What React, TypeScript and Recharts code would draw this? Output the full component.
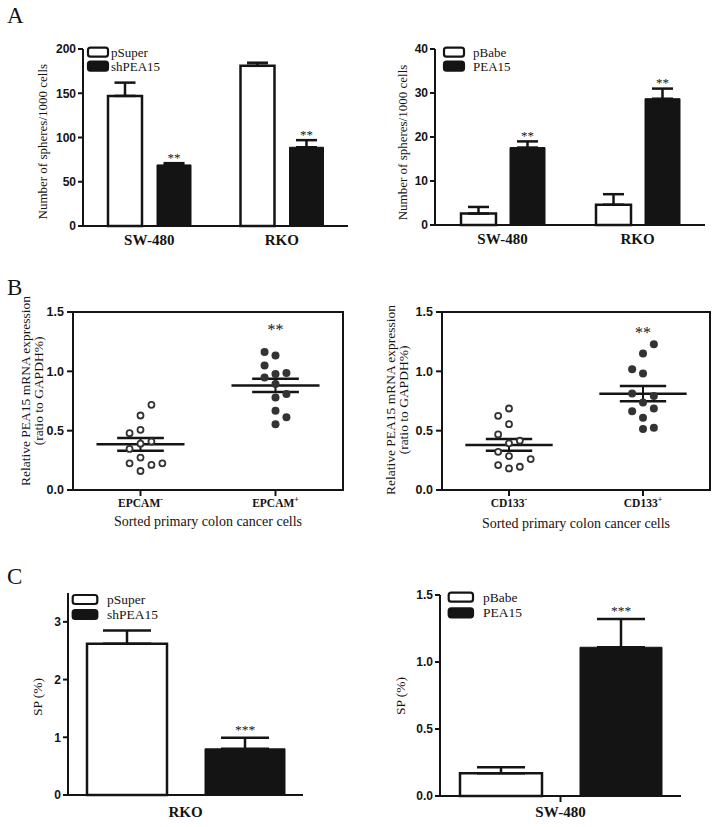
import React from 'react';
import {
  BarChart, Bar, XAxis, YAxis, ErrorBar, LabelList,
  ScatterChart, Scatter, ReferenceLine, ReferenceArea,
} from 'recharts';

const INK = '#141414';
const DOT = '#333333';
const SERIF = '"Liberation Serif", "Times New Roman", serif';
const SANS = '"Liberation Sans", Arial, sans-serif';

// ---------------- Panel A : sphere numbers ----------------
const sphereCategories = ['SW-480', 'RKO'];
const aLeftLegend = ['pSuper', 'shPEA15'];
const aLeftControl = [147, 181];
const aLeftControlErr = [15, 3.5];
const aLeftKnock = [69, 89];
const aLeftKnockErr = [2, 8];
const aLeftStars = ['**', '**'];
const aLeftTicks = [0, 50, 100, 150, 200];

const aRightLegend = ['pBabe', 'PEA15'];
const aRightControl = [2.6, 4.6];
const aRightControlErr = [1.5, 2.4];
const aRightOver = [17.6, 28.7];
const aRightOverErr = [1.4, 2.3];
const aRightStars = ['**', '**'];
const aRightTicks = [0, 10, 20, 30, 40];

const sphereTitle = ['Number of spheres/1000 cells'];

// ---------------- Panel B : sorted cells ----------------
const bTicks = [0, 0.5, 1.0, 1.5];
const bCenters = [0.5, 1.5];
const bTitle = ['Relative PEA15 mRNA expression', '(ratio to GAPDH%)'];
const bXTitle = 'Sorted primary colon cancer cells';

const epcamGroups = [['EPCAM', '-'], ['EPCAM', '+']];
const epcamNeg = [0.718, 0.628, 0.507, 0.479, 0.408, 0.39, 0.346, 0.273, 0.225, 0.211, 0.225, 0.16];
const epcamNegCols = [1, 0, 0, -1, 1, 0, -1, 0, -1, 1, 2, 0];
const epcamPos = [1.163, 1.134, 1.05, 0.949, 0.977, 0.985, 0.893, 0.78, 0.808, 0.667, 0.614, 0.555];
const epcamPosCols = [-1, 0, -1, -1, 0, 1, 0, 0, 1, 0, 1, 0];
const epcamMeans = [0.385, 0.881];
const epcamSems = [0.054, 0.056];
const epcamStar = [{ x: 1.5, y: 1.37, label: '**' }];

const cd133Groups = [['CD133', '-'], ['CD133', '+']];
const cd133Neg = [0.687, 0.625, 0.555, 0.468, 0.415, 0.393, 0.322, 0.286, 0.261, 0.21, 0.182, 0.196];
const cd133NegCols = [0, -1, 0, -1, 1, 0, -1, 0, 2, -1, 0, 1];
const cd133Pos = [1.228, 1.15, 1.018, 0.981, 0.813, 0.793, 0.738, 0.687, 0.664, 0.608, 0.513, 0.524];
const cd133PosCols = [1, 0, -1, 0, -1, 1, 0, 1, -1, 0, 0, 1];
const cd133Means = [0.38, 0.812];
const cd133Sems = [0.049, 0.065];
const cd133Star = [{ x: 1.5, y: 1.35, label: '**' }];

// ---------------- Panel C : side population ----------------
const cLeftCategory = ['RKO'];
const cLeftLegend = ['pSuper', 'shPEA15'];
const cLeftControl = [2.62];
const cLeftControlErr = [0.23];
const cLeftKnock = [0.8];
const cLeftKnockErr = [0.19];
const cLeftStars = ['***'];
const cLeftTicks = [0, 1, 2, 3];

const cRightCategory = ['SW-480'];
const cRightLegend = ['pBabe', 'PEA15'];
const cRightControl = [0.17];
const cRightControlErr = [0.045];
const cRightOver = [1.11];
const cRightOverErr = [0.21];
const cRightStars = ['***'];
const cRightTicks = [0, 0.5, 1.0, 1.5];

const spTitle = ['SP (%)'];

// ---------------- style constants ----------------
const COL_STEP = 0.081;   // horizontal jitter step (data units)
const MEAN_HW = 0.326;
const SEM_HW = 0.173;

const yTitle = (lines: string[], left: number, top: number, bx: number, cy: number, fs: number, lh: number) =>
  () => {
    const x = bx - left;
    const y = cy - top;
    return (
      <text transform={`rotate(-90 ${x} ${y})`} x={x} y={y} textAnchor="middle"
        fontFamily={SERIF} fontSize={fs} fill={INK}>
        {lines.map((l, i) => (
          <tspan key={i} x={x} dy={i === 0 ? 0 : lh}>{l}</tspan>
        ))}
      </text>
    );
  };

type BarPanelProps = {
  left: number; top: number; width: number; height: number;
  margin: { top: number; right: number; bottom: number; left: number };
  yWidth: number; yDomain: [number, number]; yTicks: number[]; yFmt?: (v: number) => string;
  cats: string[]; ctrl: number[]; ctrlErr: number[]; trt: number[]; trtErr: number[]; stars: string[];
  barSize: number; barGap: number; capW: number;
  xTickSize: number; xTickMargin: number; xTickLine: boolean; xFont: number;
  starFont: number; starLift: number;
  title: string[]; titleX: number; titleY: number; titleFs: number;
};

function BarPanel(p: BarPanelProps) {
  const data = p.cats.map((c, i) => ({
    cat: c,
    ctrl: p.ctrl[i],
    ctrlErr: [0, p.ctrlErr[i]],
    trt: p.trt[i],
    trtErr: [0, p.trtErr[i]],
    idx: i,
  }));
  const starContent = (props: any) => {
    const vb = props.viewBox && props.viewBox.width !== undefined ? props.viewBox : props;
    const i = Number(props.value);
    const h = Math.abs(vb.height);
    const yTop = Math.min(vb.y, vb.y + vb.height);
    const ppu = h / p.trt[i];
    const capY = yTop - p.trtErr[i] * ppu;
    return (
      <text x={vb.x + vb.width / 2} y={capY - p.starLift} textAnchor="middle"
        fontFamily={SERIF} fontSize={p.starFont} fill={INK}>{p.stars[i]}</text>
    );
  };
  return (
    <div style={{ position: 'absolute', left: p.left, top: p.top }}>
      <BarChart width={p.width} height={p.height} data={data} margin={p.margin}
        barGap={p.barGap} barSize={p.barSize}>
        <XAxis dataKey="cat" height={25} interval={0}
          axisLine={{ stroke: INK, strokeWidth: 2 }}
          tickLine={p.xTickLine ? { stroke: INK, strokeWidth: 2 } : false}
          tickSize={p.xTickSize} tickMargin={p.xTickMargin}
          tick={{ fontFamily: SERIF, fontWeight: 'bold', fontSize: p.xFont, fill: INK }} />
        <YAxis width={p.yWidth} domain={p.yDomain} ticks={p.yTicks} interval={0}
          tickFormatter={p.yFmt}
          axisLine={{ stroke: INK, strokeWidth: 2 }}
          tickLine={{ stroke: INK, strokeWidth: 2 }}
          tickSize={5} tickMargin={2}
          tick={{ fontFamily: SANS, fontWeight: 'bold', fontSize: 12, fill: INK }}
          label={yTitle(p.title, p.left, p.top, p.titleX, p.titleY, p.titleFs, 12.7)} />
        <Bar dataKey="ctrl" fill="#ffffff" stroke={INK} strokeWidth={2.5} isAnimationActive={false}>
          <ErrorBar dataKey="ctrlErr" width={p.capW} strokeWidth={2.5} stroke={INK} direction="y" />
        </Bar>
        <Bar dataKey="trt" fill={INK} stroke={INK} strokeWidth={1} isAnimationActive={false}>
          <ErrorBar dataKey="trtErr" width={p.capW} strokeWidth={2.5} stroke={INK} direction="y" />
          <LabelList dataKey="idx" content={starContent} />
        </Bar>
      </BarChart>
    </div>
  );
}

type ScatterPanelProps = {
  left: number; top: number; width: number; height: number;
  margin: { top: number; right: number; bottom: number; left: number };
  yWidth: number;
  groups: string[][];
  neg: number[]; negCols: number[]; pos: number[]; posCols: number[];
  means: number[]; sems: number[];
  star: { x: number; y: number; label: string }[];
  titleX: number; titleY: number; xTitleBaseline: number;
};

function ScatterPanel(p: ScatterPanelProps) {
  const negData = p.neg.map((v, i) => ({ x: bCenters[0] + p.negCols[i] * COL_STEP, y: v }));
  const posData = p.pos.map((v, i) => ({ x: bCenters[1] + p.posCols[i] * COL_STEP, y: v }));
  const SupTick = (props: any) => {
    const { x, y, payload } = props;
    const i = bCenters.indexOf(payload.value);
    const g = p.groups[i] || ['', ''];
    return (
      <text x={x} y={y + 9} textAnchor="middle" fontFamily={SERIF} fontWeight="bold" fontSize={11.5} fill={INK}>
        {g[0]}<tspan fontSize={8} dy={-5}>{g[1]}</tspan>
      </text>
    );
  };
  const xTitle = (props: any) => {
    const vb = props.viewBox;
    return (
      <text x={vb.x + vb.width / 2} y={p.xTitleBaseline - p.top} textAnchor="middle"
        fontFamily={SERIF} fontSize={14} fill={INK}>{bXTitle}</text>
    );
  };
  const openDot = (s: any) => <circle cx={s.cx} cy={s.cy} r={3} fill="#ffffff" stroke={DOT} strokeWidth={1.8} />;
  const fullDot = (s: any) => <circle cx={s.cx} cy={s.cy} r={4} fill={DOT} />;
  const starShape = (s: any) => (
    <text x={s.cx} y={s.cy + 8} textAnchor="middle" fontFamily={SERIF} fontSize={16} fill={INK}>
      {s.payload.label}
    </text>
  );
  return (
    <div style={{ position: 'absolute', left: p.left, top: p.top }}>
      <ScatterChart width={p.width} height={p.height} margin={p.margin}>
        <XAxis type="number" dataKey="x" domain={[0, 2]} ticks={bCenters} interval={0} height={50}
          axisLine={{ stroke: INK, strokeWidth: 2 }} tickLine={{ stroke: INK, strokeWidth: 2 }}
          tickSize={6} tickMargin={2} tick={SupTick} label={xTitle} />
        <YAxis type="number" dataKey="y" domain={[0, 1.5]} ticks={bTicks} interval={0} width={p.yWidth}
          tickFormatter={(v: number) => v.toFixed(1)}
          axisLine={{ stroke: INK, strokeWidth: 2 }} tickLine={{ stroke: INK, strokeWidth: 2 }}
          tickSize={6} tickMargin={3}
          tick={{ fontFamily: SANS, fontWeight: 'bold', fontSize: 12.5, fill: INK }}
          label={yTitle(bTitle, p.left, p.top, p.titleX, p.titleY, 13.5, 13)} />
        <ReferenceArea x1={0} x2={2} y1={0} y2={1.5} fill="none" fillOpacity={0}
          stroke={INK} strokeWidth={2} ifOverflow="visible" />
        <Scatter data={negData} shape={openDot} isAnimationActive={false} />
        <Scatter data={posData} shape={fullDot} isAnimationActive={false} />
        {p.means.map((m, g) => (
          <ReferenceLine key={`m${g}`} segment={[{ x: bCenters[g] - MEAN_HW, y: m }, { x: bCenters[g] + MEAN_HW, y: m }]}
            stroke={INK} strokeWidth={2.5} ifOverflow="visible" />
        ))}
        {p.means.map((m, g) => (
          <ReferenceLine key={`u${g}`} segment={[{ x: bCenters[g] - SEM_HW, y: m + p.sems[g] }, { x: bCenters[g] + SEM_HW, y: m + p.sems[g] }]}
            stroke={INK} strokeWidth={2.5} ifOverflow="visible" />
        ))}
        {p.means.map((m, g) => (
          <ReferenceLine key={`l${g}`} segment={[{ x: bCenters[g] - SEM_HW, y: m - p.sems[g] }, { x: bCenters[g] + SEM_HW, y: m - p.sems[g] }]}
            stroke={INK} strokeWidth={2.5} ifOverflow="visible" />
        ))}
        {p.means.map((m, g) => (
          <ReferenceLine key={`v${g}`} segment={[{ x: bCenters[g], y: m - p.sems[g] }, { x: bCenters[g], y: m + p.sems[g] }]}
            stroke={INK} strokeWidth={2} ifOverflow="visible" />
        ))}
        <Scatter data={p.star} shape={starShape} isAnimationActive={false} />
      </ScatterChart>
    </div>
  );
}

function LegendBlock({ x, y, w, h, gap, textX, names, fs }: { x: number; y: number; w: number; h: number; gap: number; textX: number; names: string[]; fs: number }) {
  return (
    <g>
      {names.map((n, i) => (
        <g key={n}>
          <rect x={x} y={y + i * gap} width={w} height={h} rx={2.5} ry={2.5}
            fill={i === 0 ? '#ffffff' : INK} stroke={INK} strokeWidth={2.2} />
          <text x={textX} y={y + i * gap + h} fontFamily={SERIF} fontSize={fs} fill={INK}>{n}</text>
        </g>
      ))}
    </g>
  );
}

export default function App() {
  return (
    <div style={{ position: 'absolute', left: 0, top: 0, width: 718, height: 827, background: '#ffffff', overflow: 'hidden' }}>
      <BarPanel left={0} top={0} width={360} height={255}
        margin={{ top: 49, right: 12, bottom: 4, left: 0 }} yWidth={83}
        yDomain={[0, 200]} yTicks={aLeftTicks}
        cats={sphereCategories} ctrl={aLeftControl} ctrlErr={aLeftControlErr}
        trt={aLeftKnock} trtErr={aLeftKnockErr} stars={aLeftStars}
        barSize={34} barGap={15} capW={10.5}
        xTickSize={0} xTickMargin={8} xTickLine={false} xFont={15}
        starFont={13} starLift={1.5}
        title={sphereTitle} titleX={47} titleY={141.7} titleFs={13} />
      <BarPanel left={358} top={0} width={360} height={255}
        margin={{ top: 49, right: 13, bottom: 5, left: 0 }} yWidth={77}
        yDomain={[0, 40]} yTicks={aRightTicks}
        cats={sphereCategories} ctrl={aRightControl} ctrlErr={aRightControlErr}
        trt={aRightOver} trtErr={aRightOverErr} stars={aRightStars}
        barSize={35} barGap={14} capW={10.5}
        xTickSize={0} xTickMargin={8} xTickLine={false} xFont={15}
        starFont={13} starLift={1.5}
        title={sphereTitle} titleX={406.6} titleY={142.5} titleFs={13} />

      <ScatterPanel left={0} top={278} width={358} height={262}
        margin={{ top: 34, right: 15, bottom: 0, left: 0 }} yWidth={73}
        groups={epcamGroups} neg={epcamNeg} negCols={epcamNegCols} pos={epcamPos} posCols={epcamPosCols}
        means={epcamMeans} sems={epcamSems} star={epcamStar}
        titleX={30} titleY={391} xTitleBaseline={526} />
      <ScatterPanel left={358} top={278} width={360} height={262}
        margin={{ top: 34, right: 8, bottom: 0, left: 0 }} yWidth={84}
        groups={cd133Groups} neg={cd133Neg} negCols={cd133NegCols} pos={cd133Pos} posCols={cd133PosCols}
        means={cd133Means} sems={cd133Sems} star={cd133Star}
        titleX={395} titleY={400} xTitleBaseline={528} />

      <BarPanel left={0} top={580} width={360} height={247}
        margin={{ top: 13, right: 57, bottom: 7, left: 0 }} yWidth={68}
        yDomain={[0, 3.5]} yTicks={cLeftTicks}
        cats={cLeftCategory} ctrl={cLeftControl} ctrlErr={cLeftControlErr}
        trt={cLeftKnock} trtErr={cLeftKnockErr} stars={cLeftStars}
        barSize={80} barGap={38} capW={24}
        xTickSize={0} xTickMargin={11} xTickLine={false} xFont={15}
        starFont={13.5} starLift={4}
        title={spTitle} titleX={42} titleY={697} titleFs={13.5} />
      <BarPanel left={358} top={580} width={360} height={247}
        margin={{ top: 15, right: 37, bottom: 6, left: 0 }} yWidth={82}
        yDomain={[0, 1.5]} yTicks={cRightTicks} yFmt={(v: number) => v.toFixed(1)}
        cats={cRightCategory} ctrl={cRightControl} ctrlErr={cRightControlErr}
        trt={cRightOver} trtErr={cRightOverErr} stars={cRightStars}
        barSize={82} barGap={38} capW={24}
        xTickSize={6} xTickMargin={4} xTickLine={true} xFont={15}
        starFont={13.5} starLift={4}
        title={spTitle} titleX={405} titleY={696} titleFs={13.5} />

      <svg width={718} height={827} style={{ position: 'absolute', left: 0, top: 0, pointerEvents: 'none' }}>
        <text x={7} y={23} fontFamily={SERIF} fontSize={23} fill={INK}>A</text>
        <text x={7} y={295} fontFamily={SERIF} fontSize={23} fill={INK}>B</text>
        <text x={7} y={584} fontFamily={SERIF} fontSize={23} fill={INK}>C</text>
        <LegendBlock x={88} y={47.7} w={20} h={9} gap={14} textX={111} names={aLeftLegend} fs={13} />
        <LegendBlock x={444} y={47.7} w={20} h={9} gap={14} textX={473} names={aRightLegend} fs={13} />
        <LegendBlock x={72.7} y={595} w={24.6} h={9} gap={15} textX={107} names={cLeftLegend} fs={13.5} />
        <LegendBlock x={448.7} y={592.7} w={24.3} h={9} gap={15.6} textX={483} names={cRightLegend} fs={13.5} />
      </svg>
    </div>
  );
}
